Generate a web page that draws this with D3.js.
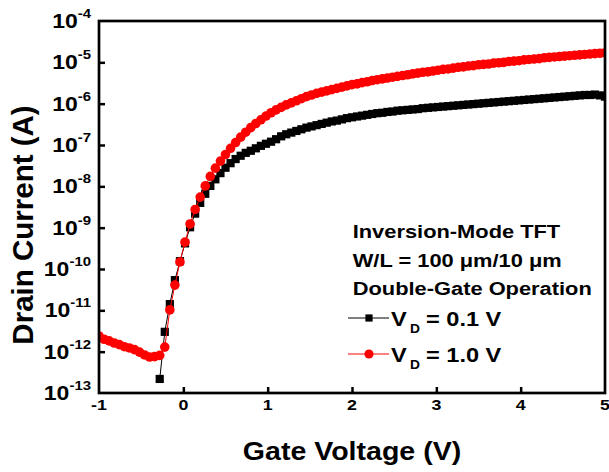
<!DOCTYPE html>
<html><head><meta charset="utf-8">
<script src="https://cdn.jsdelivr.net/npm/d3@7"></script>
<style>
html,body{margin:0;padding:0;background:#fff;}
svg{display:block;}
text{font-family:"Liberation Sans",Arial,Helvetica,sans-serif;font-weight:bold;fill:#000;}
</style>
</head><body>
<svg id="chart" width="609" height="472"></svg>
<script>
// Gate voltage sweep (V)
const gateVoltage = [-1.00,-0.94,-0.88,-0.82,-0.76,-0.70,-0.64,-0.58,-0.52,-0.46,-0.40,-0.34,-0.28,-0.22,-0.16,-0.10,-0.04,0.02,0.08,0.14,0.20,0.26,0.32,0.38,0.44,0.50,0.56,0.62,0.68,0.74,0.80,0.86,0.92,0.98,1.04,1.10,1.16,1.22,1.28,1.34,1.40,1.46,1.52,1.58,1.64,1.70,1.76,1.82,1.88,1.94,2.00,2.06,2.12,2.18,2.24,2.30,2.36,2.42,2.48,2.54,2.60,2.66,2.72,2.78,2.84,2.90,2.96,3.02,3.08,3.14,3.20,3.26,3.32,3.38,3.44,3.50,3.56,3.62,3.68,3.74,3.80,3.86,3.92,3.98,4.04,4.10,4.16,4.22,4.28,4.34,4.40,4.46,4.52,4.58,4.64,4.70,4.76,4.82,4.88,4.94,5.00];
// log10 of drain current (A), VD = 0.1 V (null = not plotted)
const logIdVd01 = [null,null,null,null,null,null,null,null,null,null,null,null,
 -12.66,-11.52,-10.85,-10.27,-9.81,-9.38,-8.99,-8.66,-8.40,-8.18,-7.99,-7.83,-7.68,-7.55,-7.44,-7.34,-7.26,-7.19,-7.14,-7.08,-7.02,-6.97,-6.92,-6.86,-6.79,-6.74,-6.70,-6.66,-6.62,-6.58,-6.55,-6.52,-6.49,-6.46,-6.43,-6.41,-6.38,-6.35,-6.33,-6.31,-6.29,-6.27,-6.25,-6.23,-6.22,-6.20,-6.19,-6.17,-6.16,-6.15,-6.14,-6.13,-6.11,-6.10,-6.09,-6.08,-6.07,-6.06,-6.05,-6.04,-6.03,-6.02,-6.01,-6.00,-5.99,-5.98,-5.97,-5.96,-5.95,-5.94,-5.93,-5.92,-5.91,-5.90,-5.89,-5.88,-5.87,-5.86,-5.85,-5.84,-5.83,-5.82,-5.81,-5.80,-5.79,-5.79,-5.78,-5.80,-5.83];
// log10 of drain current (A), VD = 1.0 V
const logIdVd10 = [-11.62,-11.70,-11.74,-11.79,-11.83,-11.88,-11.91,-11.95,-12.01,-12.08,-12.13,-12.12,-12.09,
 -11.89,-10.99,-10.39,-9.83,-9.35,-8.91,-8.56,-8.26,-7.99,-7.76,-7.56,-7.39,-7.23,-7.08,-6.94,-6.81,-6.69,-6.58,-6.48,-6.39,-6.30,-6.22,-6.15,-6.09,-6.03,-5.98,-5.93,-5.88,-5.83,-5.79,-5.75,-5.72,-5.69,-5.66,-5.63,-5.60,-5.57,-5.54,-5.52,-5.49,-5.47,-5.44,-5.42,-5.40,-5.38,-5.36,-5.34,-5.32,-5.30,-5.28,-5.26,-5.24,-5.23,-5.21,-5.19,-5.17,-5.16,-5.14,-5.12,-5.11,-5.09,-5.08,-5.06,-5.05,-5.04,-5.02,-5.01,-5.00,-4.98,-4.97,-4.96,-4.94,-4.93,-4.92,-4.91,-4.89,-4.88,-4.87,-4.86,-4.85,-4.84,-4.83,-4.82,-4.81,-4.80,-4.79,-4.78,-4.77];

const xTickValues = [-1,0,1,2,3,4,5];
const yTickExponents = [-13,-12,-11,-10,-9,-8,-7,-6,-5,-4];
const xAxisTitle = "Gate Voltage (V)";
const yAxisTitle = "Drain Current (A)";
const legendTitleLines = ["Inversion-Mode TFT","W/L = 100 \u03BCm/10 \u03BCm","Double-Gate Operation"];
const seriesLabels = ["= 0.1 V","= 1.0 V"];

const svg = d3.select("#chart");
const L = 99, R = 605, T = 21, B = 393;
const x = d3.scaleLinear().domain([-1,5]).range([L,R]);
const y = d3.scaleLog().domain([1e-13,1e-4]).range([B,T]);
const SX = 1.15;
const SQ = 8.2, CR = 4.8;

svg.append("defs").append("clipPath").attr("id","plotclip")
  .append("rect").attr("x",L).attr("y",T).attr("width",R-L).attr("height",B-T);

// ticks (inward)
const yAxis = d3.axisLeft(y).tickValues(yTickExponents.slice(1,-1).map(e=>Math.pow(10,e)))
  .tickSizeInner(-6).tickSizeOuter(0).tickFormat("");
const gy = svg.append("g").attr("transform",`translate(${L},0)`).call(yAxis);
const xAxis = d3.axisBottom(x).tickValues(xTickValues.slice(1,-1))
  .tickSizeInner(-6).tickSizeOuter(0).tickFormat("");
const gx = svg.append("g").attr("transform",`translate(0,${B})`).call(xAxis);
[gx,gy].forEach(g=>{g.select(".domain").remove(); g.selectAll("line").attr("stroke","#000").attr("stroke-width",2.5);});

// y tick labels
yTickExponents.forEach(e=>{
  const t = svg.append("text").attr("text-anchor","end")
    .attr("transform",`translate(91,${y(Math.pow(10,e))+7}) scale(${SX},1)`)
    .style("font-size","20px");
  t.append("tspan").text("10");
  t.append("tspan").attr("dy",-10).style("font-size","13px").text(String(e));
});
// x tick labels
xTickValues.forEach(v=>{
  svg.append("text").attr("text-anchor","middle")
    .attr("transform",`translate(${x(v)},410) scale(${SX},1)`)
    .style("font-size","15.5px").text(String(v));
});
// axis titles
svg.append("text").attr("text-anchor","middle")
  .attr("transform",`translate(${(L+R)/2},460) scale(1.12,1)`)
  .style("font-size","25.5px").text(xAxisTitle);
svg.append("text").attr("text-anchor","middle")
  .attr("transform",`translate(33,225) rotate(-90)`)
  .style("font-size","29.5px").text(yAxisTitle);

// series
const series = [
  {vals: logIdVd01, color:"#000", shape:"square"},
  {vals: logIdVd10, color:"#ff0000", shape:"circle"}
];
const plot = svg.append("g").attr("clip-path","url(#plotclip)");
series.forEach(s=>{
  const pts = gateVoltage.map((v,i)=>[v,s.vals[i]]).filter(d=>d[1]!==null);
  const line = d3.line().x(d=>x(d[0])).y(d=>y(Math.pow(10,d[1])));
  plot.append("path").datum(pts).attr("d",line).attr("fill","none")
    .attr("stroke",s.color).attr("stroke-width",1);
  const g = plot.append("g");
  if (s.shape==="square") {
    g.selectAll("rect").data(pts).join("rect")
      .attr("x",d=>x(d[0])-SQ/2).attr("y",d=>y(Math.pow(10,d[1]))-SQ/2)
      .attr("width",SQ).attr("height",SQ).attr("fill",s.color);
  } else {
    g.selectAll("circle").data(pts).join("circle")
      .attr("cx",d=>x(d[0])).attr("cy",d=>y(Math.pow(10,d[1])))
      .attr("r",CR).attr("fill",s.color);
  }
});

// frame
svg.append("rect").attr("x",L).attr("y",T).attr("width",R-L).attr("height",B-T)
  .attr("fill","none").attr("stroke","#000").attr("stroke-width",2.7);

// legend
const lx = 352.7;
[238,267,295].forEach((by,i)=>{
  svg.append("text").attr("transform",`translate(${lx},${by}) scale(${SX},1)`)
    .style("font-size","19px").text(legendTitleLines[i]);
});
[318,354].forEach((ly,i)=>{
  const s = series[i];
  svg.append("line").attr("x1",348).attr("x2",389).attr("y1",ly).attr("y2",ly)
    .attr("stroke",s.color).attr("stroke-width",1);
  if (s.shape==="square") svg.append("rect").attr("x",369-3.6).attr("y",ly-3.6).attr("width",7.2).attr("height",7.2).attr("fill",s.color);
  else svg.append("circle").attr("cx",369).attr("cy",ly).attr("r",4.6).attr("fill",s.color);
  svg.append("text").attr("transform",`translate(391,${ly+7.5}) scale(${SX},1)`).style("font-size","20.5px").text("V");
  svg.append("text").attr("transform",`translate(410,${ly+15}) scale(${SX},1)`).style("font-size","12px").text("D");
  svg.append("text").attr("transform",`translate(426,${ly+7.5}) scale(${SX},1)`).style("font-size","20.5px").text(seriesLabels[i]);
});
</script>
</body></html>
